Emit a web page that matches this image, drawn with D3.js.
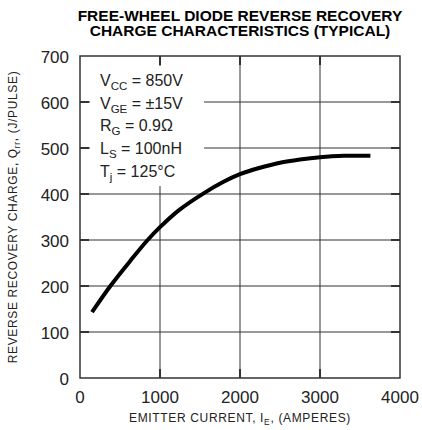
<!DOCTYPE html>
<html lang="en">
<head>
  <meta charset="UTF-8">
  <title>Free-Wheel Diode Reverse Recovery Charge</title>
  <style>
    body { margin: 0; background: #fff; }
    svg { display: block; font-family: "Liberation Sans", Arial, sans-serif; }
  </style>
</head>
<body>
  <div id="chart"></div>
  <script src="https://d3js.org/d3.v7.min.js"></script>
  <script>
    // emitter current (A) vs recovery charge
    const currentA = [150, 375, 630, 840, 1000, 1230, 1550, 1800, 2000, 2250, 2500, 2750, 3000, 3300, 3630];
    const chargeQ  = [143, 199, 255, 299, 328, 364, 402, 427, 443, 457, 468, 475, 480, 483, 483];
    const xTicks = [0, 1000, 2000, 3000, 4000];
    const yTicks = [0, 100, 200, 300, 400, 500, 600, 700];
    const conditions = [
      ["V", "CC", " = 850V"],
      ["V", "GE", " = \u00b115V"],
      ["R", "G", " = 0.9\u03a9"],
      ["L", "S", " = 100nH"],
      ["T", "j", " = 125\u00b0C"]
    ];

    const width = 422, height = 430;
    const margin = { top: 56, right: 22, bottom: 52, left: 80 };

    const svg = d3.select("#chart").append("svg")
      .attr("width", width)
      .attr("height", height);

    const x = d3.scaleLinear().domain([0, 4000]).range([margin.left, width - margin.right]);
    const y = d3.scaleLinear().domain([0, 700]).range([height - margin.bottom, margin.top]);

    // title
    svg.append("text")
      .attr("x", 240).attr("y", 20.5)
      .attr("text-anchor", "middle")
      .attr("font-weight", "bold").attr("font-size", 15.5)
      .text("FREE-WHEEL DIODE REVERSE RECOVERY");
    svg.append("text")
      .attr("x", 240).attr("y", 36)
      .attr("text-anchor", "middle")
      .attr("font-weight", "bold").attr("font-size", 15.5)
      .text("CHARGE CHARACTERISTICS (TYPICAL)");

    // grid
    const grid = svg.append("g").attr("stroke", "#333").attr("stroke-width", 1);
    grid.selectAll(".gx").data(xTicks.slice(1, -1)).enter().append("line")
      .attr("x1", d => x(d)).attr("x2", d => x(d))
      .attr("y1", y(0)).attr("y2", y(700));
    grid.selectAll(".gy").data(yTicks.slice(1, -1)).enter().append("line")
      .attr("x1", x(0)).attr("x2", x(4000))
      .attr("y1", d => y(d)).attr("y2", d => y(d));

    // white box behind the test conditions
    svg.append("rect")
      .attr("x", 90).attr("y", 66)
      .attr("width", 114).attr("height", 120)
      .attr("fill", "#fff");

    // inward ticks on all four sides
    const ticks = svg.append("g").attr("stroke", "#333").attr("stroke-width", 2);
    const tl = 9;
    xTicks.slice(1, -1).forEach(d => {
      ticks.append("line").attr("x1", x(d)).attr("x2", x(d)).attr("y1", y(0)).attr("y2", y(0) - tl);
      ticks.append("line").attr("x1", x(d)).attr("x2", x(d)).attr("y1", y(700)).attr("y2", y(700) + tl);
    });
    yTicks.slice(1, -1).forEach(d => {
      ticks.append("line").attr("x1", x(0)).attr("x2", x(0) + tl).attr("y1", y(d)).attr("y2", y(d));
      ticks.append("line").attr("x1", x(4000)).attr("x2", x(4000) - tl).attr("y1", y(d)).attr("y2", y(d));
    });

    // frame
    svg.append("rect")
      .attr("x", x(0)).attr("y", y(700))
      .attr("width", x(4000) - x(0)).attr("height", y(0) - y(700))
      .attr("fill", "none").attr("stroke", "#333").attr("stroke-width", 1.5);

    // tick labels
    svg.selectAll(".xl").data(xTicks).enter().append("text")
      .attr("x", d => x(d)).attr("y", y(0) + 25)
      .attr("text-anchor", "middle").attr("font-size", 17).attr("fill", "#222")
      .text(d => d);
    svg.selectAll(".yl").data(yTicks).enter().append("text")
      .attr("x", x(0) - 11).attr("y", d => y(d) + 6.5)
      .attr("text-anchor", "end").attr("font-size", 17).attr("fill", "#222")
      .text(d => d);

    // axis titles
    const xt = svg.append("text")
      .attr("x", 240).attr("y", 421.5)
      .attr("text-anchor", "middle").attr("font-size", 12)
      .attr("letter-spacing", 0.65).attr("fill", "#222");
    xt.append("tspan").text("EMITTER CURRENT, I");
    xt.append("tspan").attr("font-size", 8.5).attr("dy", 3).text("E");
    xt.append("tspan").attr("dy", -3).text(", (AMPERES)");

    const yt = svg.append("text")
      .attr("transform", `translate(16.5, ${(y(0) + y(700)) / 2}) rotate(-90)`)
      .attr("text-anchor", "middle").attr("font-size", 12)
      .attr("letter-spacing", 0.65).attr("fill", "#222");
    yt.append("tspan").text("REVERSE RECOVERY CHARGE, Q");
    yt.append("tspan").attr("font-size", 8.5).attr("dy", 3).text("rr");
    yt.append("tspan").attr("dy", -3).text(", (J/PULSE)");

    // conditions
    conditions.forEach((c, i) => {
      const t = svg.append("text")
        .attr("x", 100).attr("y", 86 + i * 22.7)
        .attr("font-size", 16).attr("fill", "#222");
      t.append("tspan").text(c[0]);
      t.append("tspan").attr("font-size", 11.5).attr("dy", 4).text(c[1]);
      t.append("tspan").attr("dy", -4).text(c[2]);
    });

    // curve
    const line = d3.line()
      .x((d, i) => x(currentA[i]))
      .y(d => y(d))
      .curve(d3.curveCatmullRom.alpha(0.5));
    svg.append("path")
      .datum(chargeQ)
      .attr("d", line)
      .attr("fill", "none")
      .attr("stroke", "#000")
      .attr("stroke-width", 4);
  </script>
</body>
</html>
